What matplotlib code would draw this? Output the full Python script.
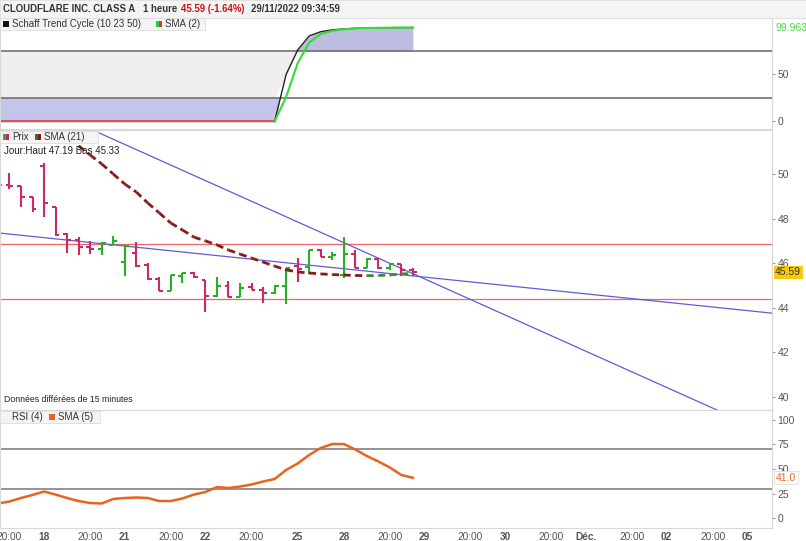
import numpy as np
import matplotlib.pyplot as plt
import matplotlib.transforms as mtransforms
from matplotlib.patches import Rectangle

W, H = 806, 541
plt.rcParams['font.family'] = ['Liberation Sans', 'DejaVu Sans']

# hourly bars, index -1 .. 35
bar_idx = list(range(-1, 36))
opens = [49.28, 49.51, 49.46, 48.97, 50.36, 48.52, 47.31, 47.04, 46.73, 46.64,
         46.82, 46.05, 46.46, 45.92, 45.29, 44.75, 45.43, 45.56, 45.25, 44.53,
         44.98, 44.48, 44.93, 44.80, 44.66, 44.98, 45.87, 45.83, 46.59, 46.28,
         45.47, 46.41, 45.78, 46.19, 45.78, 45.96, 45.70]
highs = [49.64, 50.04, 49.46, 48.97, 50.49, 48.52, 47.35, 47.17, 47.00, 46.95,
         47.22, 46.82, 46.95, 46.01, 45.38, 45.47, 45.56, 45.61, 45.25, 45.38,
         45.20, 45.11, 45.11, 44.93, 45.02, 45.78, 46.23, 46.59, 46.64, 46.50,
         47.19, 46.59, 46.23, 46.23, 46.01, 45.96, 45.78]
lows = [49.19, 49.33, 48.52, 48.30, 48.07, 47.22, 46.46, 46.37, 46.41, 46.37,
        46.82, 45.43, 45.83, 45.25, 44.75, 44.75, 45.11, 45.34, 43.81, 44.48,
        44.48, 44.48, 44.80, 44.22, 44.62, 44.17, 45.16, 45.52, 46.28, 46.14,
        45.33, 45.78, 45.78, 45.74, 45.70, 45.43, 45.43]
closes = [49.51, 49.46, 48.97, 48.43, 48.70, 47.26, 47.04, 46.73, 46.64, 46.91,
          47.00, 46.77, 45.87, 45.29, 44.75, 45.47, 45.56, 45.38, 44.53, 44.98,
          44.48, 44.89, 44.80, 44.66, 44.98, 45.78, 45.74, 46.59, 46.28, 46.37,
          46.41, 45.78, 46.19, 45.78, 45.96, 45.70, 45.59]

sma21_idx = list(range(6, 36))
sma21 = [51.26, 50.85, 50.45, 50.00, 49.55, 49.19, 48.70, 48.25, 47.80, 47.49,
         47.17, 47.00, 46.82, 46.59, 46.41, 46.23, 46.05, 45.87, 45.70, 45.61,
         45.56, 45.52, 45.49, 45.47, 45.45, 45.44, 45.45, 45.47, 45.52, 45.54]

# trend lines (two anchor points each) and horizontal levels
trend_steep = [(7.6, 51.88), (61.2, 39.46)]
trend_flat = [(-0.82, 47.35), (65.97, 43.77)]
levels = [46.87, 44.38]

stc = [0.0] * 25 + [50, 76, 91, 95.5, 97.5, 98.5, 99.2, 99.5, 99.7, 99.8, 99.9, 99.96]
stc_sma = [0.0] * 25 + [26, 62, 84, 93, 96.5, 98, 99, 99.4, 99.6, 99.8, 99.9, 99.963]

rsi = [14.8, 16.8, 20.4, 23.5, 27.0, 23.9, 20.4, 17.3, 15.3, 14.8,
       19.4, 20.4, 20.9, 20.4, 17.3, 17.3, 19.9, 23.9, 26.5, 31.6,
       30.6, 32.1, 34.2, 37.2, 39.8, 49.0, 55.6, 64.3, 71.4, 75.5,
       75.5, 69.9, 63.3, 57.7, 51.5, 43.9, 41.0]

tick_pos = [0, 3, 7, 10, 14, 17, 21, 25, 29, 33, 36, 40, 43, 47, 50, 54, 57, 61, 64]
tick_lbl = ["20:00", "18", "20:00", "21", "20:00", "22", "20:00", "25", "28", "20:00",
            "29", "20:00", "30", "20:00", "Déc.", "20:00", "02", "20:00", "05"]

UP, DOWN = '#25b025', '#cc2a66'
XLIM = (-0.82, 66.15)
GRID = '#d8d8d8'
LBL = '#555555'


def rect(top, bottom, right=772):
    return [0, 1 - bottom / H, right / W, (bottom - top) / H]


def style(ax, ylim, yticks):
    ax.set_xlim(*XLIM)
    ax.set_ylim(*ylim)
    ax.yaxis.tick_right()
    ax.set_yticks(yticks)
    ax.tick_params(axis='y', length=2, color='#999999', labelsize=7.5,
                   labelcolor=LBL, pad=2)
    ax.set_xticks([])
    for s in ax.spines.values():
        s.set_color(GRID)
        s.set_linewidth(0.8)


def fig_text(fig, x, y, s, **kw):
    fig.text(x / W, 1 - y / H, s, va='center', **kw)


def square(fig, x, y, c1, c2=None, size=6):
    if c2 is None:
        c2 = c1
    fig.add_artist(Rectangle((x / W, 1 - (y + size / 2) / H), size / 2 / W, size / H,
                             transform=fig.transFigure, color=c1, lw=0, zorder=7))
    fig.add_artist(Rectangle(((x + size / 2) / W, 1 - (y + size / 2) / H), size / 2 / W,
                             size / H, transform=fig.transFigure, color=c2, lw=0, zorder=7))


def legend_box(fig, x0, y0, x1, y1):
    fig.add_artist(Rectangle((x0 / W, 1 - y1 / H), (x1 - x0) / W, (y1 - y0) / H,
                             transform=fig.transFigure, facecolor='#f4f4f4',
                             edgecolor='#dddddd', lw=0.6, zorder=5))


fig = plt.figure(figsize=(W / 100, H / 100), dpi=100)

# header
fig.add_artist(Rectangle((0, 1 - 18 / H), 1, 18 / H, transform=fig.transFigure,
                         facecolor='#f4f4f4', edgecolor='#dddddd', lw=0.6))
fig_text(fig, 3, 9, "CLOUDFLARE INC. CLASS A", fontsize=6.9, weight='bold', color='#333333')
fig_text(fig, 143, 9, "1 heure", fontsize=6.9, weight='bold', color='#333333')
fig_text(fig, 181, 9, "45.59 (-1.64%)", fontsize=6.9, weight='bold', color='#cc1111')
fig_text(fig, 251, 9, "29/11/2022 09:34:59", fontsize=6.9, weight='bold', color='#333333')

x = np.array(bar_idx, dtype=float)

# --- Schaff Trend Cycle panel
ax1 = fig.add_axes(rect(18, 129))
style(ax1, (-8.0, 110.1), [0, 50])
s = np.array(stc)
ax1.fill_between(x, np.clip(s, 25, 75), 75, color='#efefef', lw=0)
ax1.fill_between(x, s, 25, where=s <= 25, interpolate=True, color='#c3c6ea', lw=0)
ax1.fill_between(x, 75, s, where=s >= 75, interpolate=True, color='#bcbde0', lw=0)
ax1.axhline(75, color='#666666', lw=1.1)
ax1.axhline(25, color='#666666', lw=1.1)
ax1.plot(x, s, color='#222222', lw=1.0)
ax1.plot(x[:25], stc_sma[:25], color='#e05060', lw=1.5)
ax1.plot(x[24:], stc_sma[24:], color='#33dd33', lw=1.5)
blend1 = mtransforms.blended_transform_factory(ax1.transAxes, ax1.transData)
ax1.text(1.005, 99.963, "99.963", transform=blend1, fontsize=7.5, color='#44dd44',
         va='center', ha='left', clip_on=False)

legend_box(fig, 0, 18, 205, 30)
square(fig, 3, 24, '#111111')
fig_text(fig, 12, 24, "Schaff Trend Cycle (10 23 50)", fontsize=7, color='#333333', zorder=6)
square(fig, 156, 24, '#33cc33', '#dd3333')
fig_text(fig, 165, 24, "SMA (2)", fontsize=7, color='#333333', zorder=6)

# --- price panel
ax2 = fig.add_axes(rect(130, 410))
style(ax2, (39.42, 51.97), [40, 42, 44, 46, 48, 50])
for lv in levels:
    ax2.axhline(lv, color='#ee6666', lw=0.9)
ax2.axline(*trend_steep, color='#5d5dd8', lw=0.9)
ax2.axline(*trend_flat, color='#5d5dd8', lw=0.9)

for i, o, h, l, c in zip(bar_idx, opens, highs, lows, closes):
    col = UP if c >= o else DOWN
    ax2.vlines(i, l, h, color=col, lw=1.5)
    ax2.hlines(o, i - 0.34, i, color=col, lw=1.5)
    ax2.hlines(c, i, i + 0.34, color=col, lw=1.5)

for j in range(len(sma21) - 1):
    col = '#3c8c3c' if sma21[j + 1] > sma21[j] else '#8b1a1a'
    ax2.plot(sma21_idx[j:j + 2], sma21[j:j + 2], color=col, lw=2.0,
             dashes=(2.5, 1.5), dash_capstyle='butt')

blend2 = mtransforms.blended_transform_factory(ax2.transAxes, ax2.transData)
ax2.text(1.004, closes[-1], "45.59", transform=blend2, fontsize=7.5, color='#333333',
         va='center', ha='left', clip_on=False,
         bbox=dict(boxstyle='square,pad=0.15', facecolor='#f6c915', edgecolor='none'))

legend_box(fig, 0, 131, 98, 143)
square(fig, 3, 137, '#33aa33', '#cc2255')
fig_text(fig, 12, 137, "Prix", fontsize=7, color='#333333', zorder=6)
square(fig, 35, 137, '#2d7a2d', '#8b1a1a')
fig_text(fig, 44, 137, "SMA (21)", fontsize=7, color='#333333', zorder=6)
fig_text(fig, 4, 151, "Jour:Haut 47.19 Bas 45.33", fontsize=7, color='#222222')
fig_text(fig, 4, 400, "Données différées de 15 minutes", fontsize=6.3, color='#222222')

# --- RSI panel
ax3 = fig.add_axes(rect(410, 528))
style(ax3, (-10.2, 110.2), [0, 25, 50, 75, 100])
ax3.axhline(70, color='#777777', lw=1.1)
ax3.axhline(30, color='#777777', lw=1.1)
ax3.plot(x, rsi, color='#e8641e', lw=1.8)
blend3 = mtransforms.blended_transform_factory(ax3.transAxes, ax3.transData)
ax3.text(1.005, rsi[-1], "41.0", transform=blend3, fontsize=7.5, color='#e8641e',
         va='center', ha='left', clip_on=False,
         bbox=dict(boxstyle='square,pad=0.15', facecolor='white', edgecolor='#dddddd', lw=0.6))

ax3.set_xticks(tick_pos)
ax3.set_xticklabels(tick_lbl)
ax3.tick_params(axis='x', length=0, labelsize=7.3, labelcolor='#555555', pad=3)
for t, lbl in zip(ax3.get_xticklabels(), tick_lbl):
    if ':' not in lbl:
        t.set_fontweight('bold')

legend_box(fig, 0, 411, 100, 423)
fig_text(fig, 12, 417, "RSI (4)", fontsize=7, color='#333333', zorder=6)
square(fig, 49, 417, '#e8641e')
fig_text(fig, 58, 417, "SMA (5)", fontsize=7, color='#333333', zorder=6)

fig.savefig("out.png", dpi=100)
